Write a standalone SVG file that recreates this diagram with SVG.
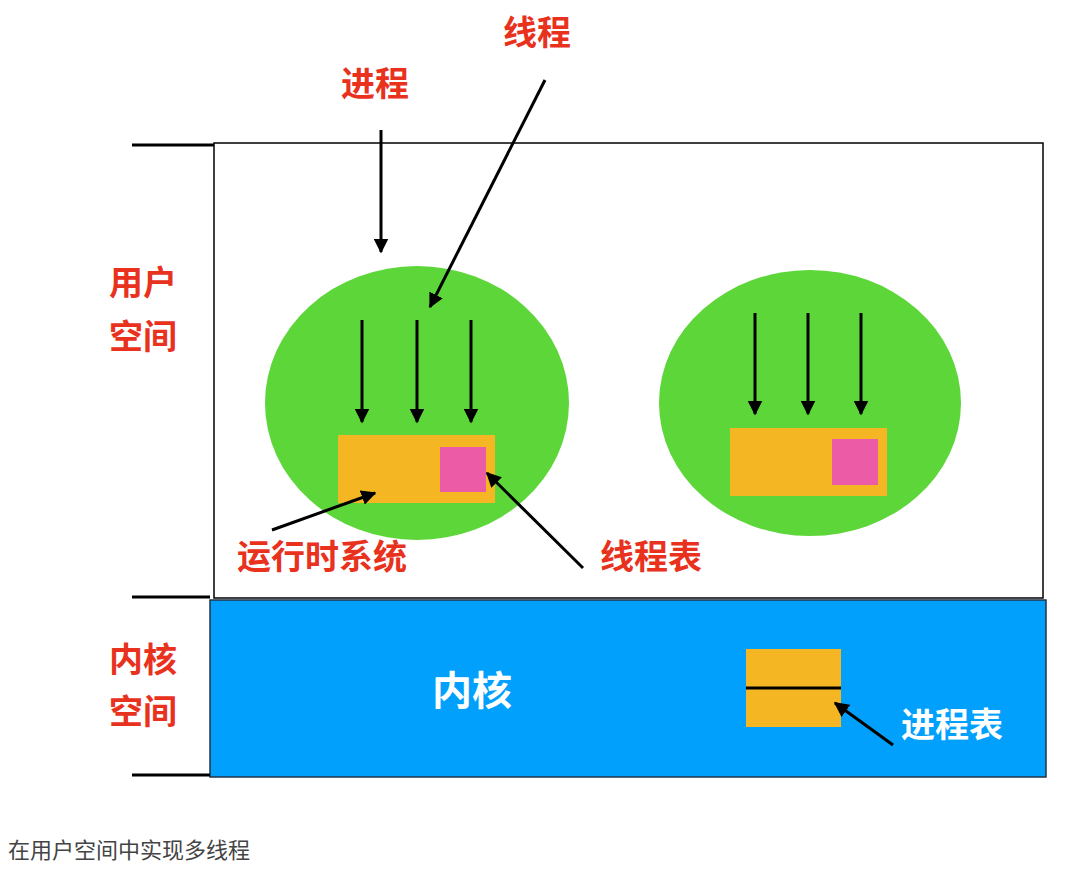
<svg xmlns="http://www.w3.org/2000/svg" width="1066" height="875" viewBox="0 0 1066 875">
<defs>
<marker id="ah" viewBox="0 0 10 10" refX="9" refY="5" markerWidth="5" markerHeight="5" orient="auto"><path d="M0,0 L10,5 L0,10 z" fill="#000"/></marker>
<style>
.lbl{font-family:"Noto Sans CJK SC",sans-serif;font-weight:bold;font-size:34px;fill:#e8321e;text-anchor:middle}
.wt{font-family:"Noto Sans CJK SC",sans-serif;font-weight:bold;fill:#fff;text-anchor:middle}
.ar{stroke:#000;stroke-width:3;fill:none;marker-end:url(#ah)}
.or{fill:#f4b723}
.pk{fill:#ec5ba6}
.gr{fill:#5dd63a}
</style>
</defs>
<rect width="1066" height="875" fill="#fff"/>
<g id="user-space"><rect x="214" y="143" width="829" height="455" fill="#fff" stroke="#000" stroke-width="1.5"/></g>
<g id="kernel-space"><rect x="210" y="600" width="836" height="177" fill="#00a0fc" stroke="#234" stroke-width="1.5"/>
<text class="wt" x="472" y="705" font-size="40">内核</text></g>
<g id="ticks" stroke="#000" stroke-width="3"><line x1="132" y1="145" x2="214" y2="145"/><line x1="132" y1="597" x2="210" y2="597"/><line x1="132" y1="775" x2="210" y2="775"/></g>
<g id="proc1"><ellipse class="gr" cx="417" cy="403" rx="152" ry="137"/><rect class="or" x="338" y="435" width="157" height="68"/><rect class="pk" x="440" y="447" width="46" height="45"/></g>
<g id="proc2"><ellipse class="gr" cx="810" cy="403" rx="151" ry="133"/><rect class="or" x="730" y="428" width="157" height="68"/><rect class="pk" x="832" y="439" width="46" height="46"/></g>
<g id="proctable"><rect class="or" x="746" y="649" width="95" height="78"/><line x1="746" y1="688" x2="841" y2="688" stroke="#000" stroke-width="3"/></g>
<g id="labels">
<text class="lbl" x="375" y="96">进程</text>
<text class="lbl" x="537" y="45">线程</text>
<text class="lbl" x="322" y="569">运行时系统</text>
<text class="lbl" x="651" y="569">线程表</text>
<text class="lbl" x="143" y="295">用户</text>
<text class="lbl" x="143" y="349">空间</text>
<text class="lbl" x="143" y="672">内核</text>
<text class="lbl" x="143" y="724">空间</text>
<text class="wt" x="952" y="737" font-size="34">进程表</text>
<text x="8" y="858" font-family="Noto Sans CJK SC,sans-serif" font-size="22" fill="#444">在用户空间中实现多线程</text>
</g>
<g id="connectors">
<line class="ar" x1="381" y1="130" x2="381" y2="252"/>
<line class="ar" x1="545" y1="80" x2="430" y2="307"/>
<line class="ar" x1="362" y1="320" x2="362" y2="422"/>
<line class="ar" x1="417" y1="320" x2="417" y2="422"/>
<line class="ar" x1="471" y1="320" x2="471" y2="422"/>
<line class="ar" x1="755" y1="313" x2="755" y2="414"/>
<line class="ar" x1="808" y1="313" x2="808" y2="414"/>
<line class="ar" x1="861" y1="313" x2="861" y2="414"/>
<line class="ar" x1="272" y1="530" x2="375" y2="493"/>
<line class="ar" x1="583" y1="568" x2="487" y2="473"/>
<line class="ar" x1="893" y1="745" x2="835" y2="703"/>
</g>
</svg>
